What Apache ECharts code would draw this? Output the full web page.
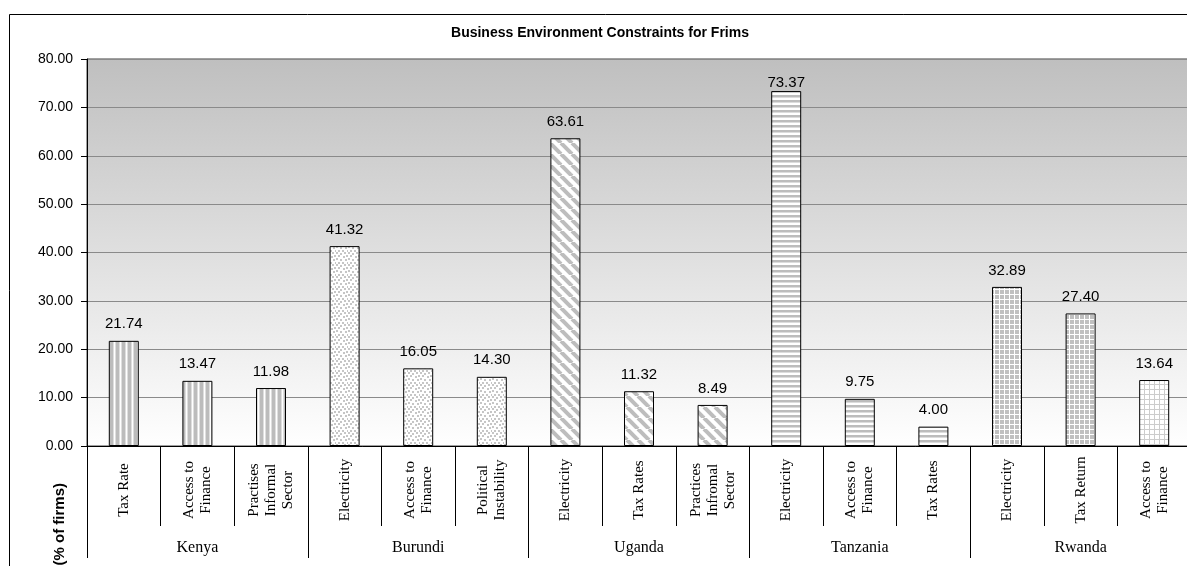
<!DOCTYPE html>
<html>
<head>
<meta charset="utf-8">
<script src="https://cdn.jsdelivr.net/npm/echarts@6/dist/echarts.min.js"></script>
<style>
html,body{margin:0;padding:0;overflow:hidden;background:#fff;}
#chart{width:1200px;height:566px;}
</style>
</head>
<body>
<div id="chart"></div>
<script>
// ---- data ----
const categories = [
  'Tax Rate', 'Access to\nFinance', 'Practises\nInformal\nSector',
  'Electricity', 'Access to\nFinance', 'Political\nInstability',
  'Electricity', 'Tax Rates', 'Practices\nInfromal\nSector',
  'Electricity', 'Access to\nFinance', 'Tax Rates',
  'Electricity', 'Tax Return', 'Access to\nFinance'
];
const countries = ['Kenya', 'Burundi', 'Uganda', 'Tanzania', 'Rwanda'];
const values = [21.74, 13.47, 11.98, 41.32, 16.05, 14.30, 63.61, 11.32, 8.49, 73.37, 9.75, 4.00, 32.89, 27.40, 13.64];
const yTicks = { min: 0, max: 80, interval: 10 };

// ---- styles (fill patterns per bar) ----
const barPatterns = ['vstripe','vstripe','vstripe','dots','dots','dots','diag','diag','diag','hstripe','hstripe','hstripe','grid','grid','gridLight'];

function makePattern(type) {
  const c = document.createElement('canvas');
  let s = 6;
  if (type === 'dots') s = 12;
  if (type === 'diag') s = 11;
  if (type === 'hstripe' || type === 'grid' || type === 'gridLight') s = 5;
  c.width = s; c.height = s;
  const g = c.getContext('2d');
  g.fillStyle = '#ffffff'; g.fillRect(0, 0, s, s);
  if (type === 'vstripe') {
    g.fillStyle = '#bcbcbc'; g.fillRect(2, 0, 3, s);
    g.fillStyle = '#dedede'; g.fillRect(1, 0, 1, s); g.fillRect(5, 0, 1, s);
  } else if (type === 'dots') {
    g.fillStyle = '#c6c6c6';
    [[0,0],[4,1],[8,0],[2,3],[7,4],[10,3],[0,6],[4,7],[9,7],[2,10],[6,10],[11,10]]
      .forEach(p => g.fillRect(p[0], p[1], 2, 2));
  } else if (type === 'diag') {
    g.strokeStyle = '#bdbdbd'; g.lineWidth = 4;
    for (let x = -s; x <= s; x += s) {
      g.beginPath(); g.moveTo(x, 0); g.lineTo(x + s, s); g.stroke();
    }
  } else if (type === 'hstripe') {
    g.fillStyle = '#bcbcbc'; g.fillRect(0, 0, s, 2);
    g.fillStyle = '#dcdcdc'; g.fillRect(0, 2, s, 1);
  } else if (type === 'grid') {
    g.fillStyle = '#c0c0c0'; g.fillRect(0, 0, s, s);
    g.fillStyle = '#ffffff'; g.fillRect(4, 0, 1, s); g.fillRect(0, 4, s, 1);
  } else if (type === 'gridLight') {
    g.fillStyle = '#cccccc'; g.fillRect(4, 0, 1, s); g.fillRect(0, 4, s, 1);
  }
  return { image: c, repeat: 'repeat' };
}

const sans = 'Arial, "Liberation Sans", sans-serif';
const serif = '"Times New Roman", "Liberation Serif", serif';

const chart = echarts.init(document.getElementById('chart'), null, { renderer: 'canvas' });

const seriesData = values.map((v, i) => ({
  value: v,
  itemStyle: { color: makePattern(barPatterns[i]) },
  label: v > 70 ? { distance: 1 } : undefined
}));

chart.setOption({
  animation: false,
  backgroundColor: '#ffffff',
  title: {
    text: 'Business Environment Constraints for Frims',
    left: 595, top: 21, textAlign: 'center',
    textStyle: { fontFamily: sans, fontSize: 14, fontWeight: 'bold', color: '#000' }
  },
  graphic: [
    { type: 'rect', shape: { x: 9.5, y: 14.5, width: 1300, height: 700 },
      style: { fill: 'none', stroke: '#000', lineWidth: 1 }, z: 100, silent: true },
    { type: 'text', x: 60, y: 483, rotation: Math.PI / 2,
      style: { text: '(% of firms)', fontFamily: sans, fontSize: 15, fontWeight: 'bold',
               fill: '#000', align: 'right', verticalAlign: 'middle' } }
  ],
  grid: {
    left: 87, top: 59, right: 9, bottom: 120,
    show: true, borderColor: '#404040', borderWidth: 1,
    backgroundColor: {
      type: 'linear', x: 0, y: 0, x2: 0, y2: 1,
      colorStops: [{ offset: 0, color: '#bfbfbf' }, { offset: 1, color: '#ffffff' }]
    }
  },
  xAxis: [
    {
      type: 'category', data: categories, position: 'bottom',
      axisLine: { show: true, lineStyle: { color: '#000', width: 1 } },
      axisTick: { show: true, interval: 0, length: 80, lineStyle: { color: '#000', width: 1 } },
      axisLabel: {
        interval: 0, rotate: 90, align: 'center', verticalAlign: 'middle', margin: 44,
        fontFamily: serif, fontSize: 15, lineHeight: 17, color: '#000'
      },
      splitLine: { show: false }
    },
    {
      type: 'category', data: countries, position: 'bottom', offset: 0,
      axisLine: { show: false },
      axisTick: { show: true, interval: 0, length: 112, lineStyle: { color: '#000', width: 1 } },
      axisLabel: { interval: 0, margin: 94, fontFamily: serif, fontSize: 16, color: '#000' },
      splitLine: { show: false }
    }
  ],
  yAxis: {
    type: 'value', min: yTicks.min, max: yTicks.max, interval: yTicks.interval,
    axisLine: { show: true, lineStyle: { color: '#000', width: 1 } },
    axisTick: { show: true, length: 6, lineStyle: { color: '#000' } },
    axisLabel: { margin: 14, fontFamily: sans, fontSize: 14, color: '#000',
                 formatter: v => v.toFixed(2) },
    splitLine: { show: true, lineStyle: { color: '#8a8a8a', width: 1 } }
  },
  series: [{
    type: 'bar', xAxisIndex: 0, yAxisIndex: 0,
    data: seriesData,
    barWidth: 30,
    itemStyle: { borderColor: '#000', borderWidth: 1 },
    label: {
      show: true, position: 'top', distance: 9,
      fontFamily: sans, fontSize: 15, color: '#000',
      formatter: p => p.value.toFixed(2)
    }
  }]
});
</script>
</body>
</html>
